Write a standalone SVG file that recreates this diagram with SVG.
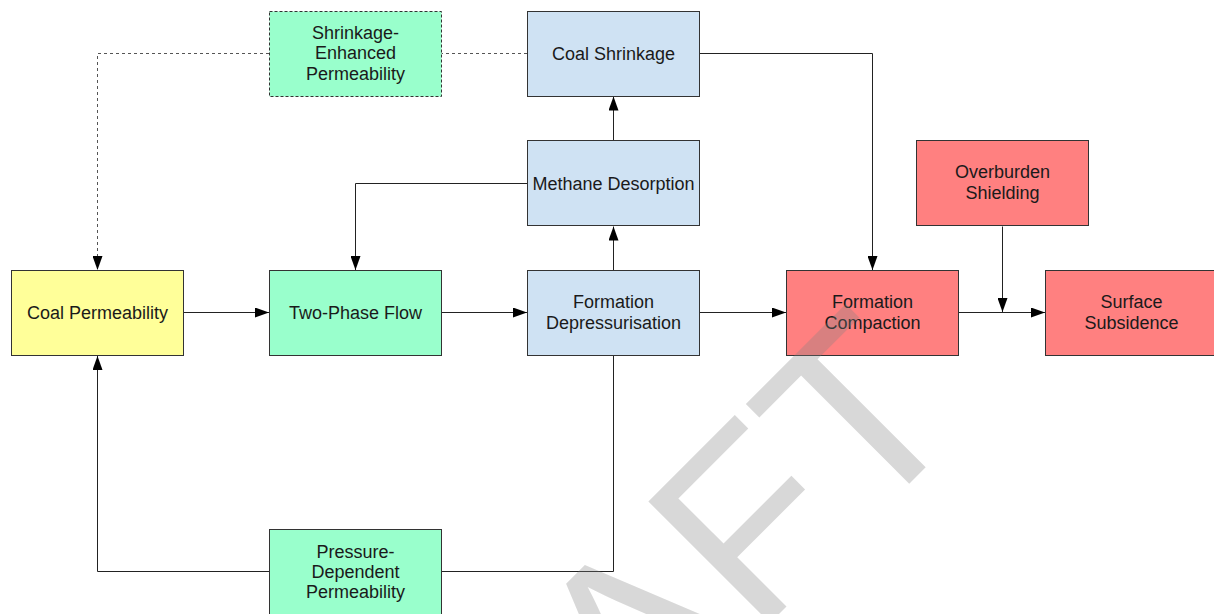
<svg xmlns="http://www.w3.org/2000/svg" width="1214" height="614" viewBox="0 0 1214 614">
<defs>
<marker id="arr" markerUnits="userSpaceOnUse" markerWidth="14" markerHeight="10" refX="14" refY="5" orient="auto">
<path d="M0,0 L14,5 L0,10 z" fill="#000"/>
</marker>
<style>
.box{stroke:#333;stroke-width:1}
.blue{fill:#cfe2f3}
.green{fill:#99ffcc}
.yellow{fill:#ffff99}
.red{fill:#ff8080}
.dash{stroke-dasharray:3,2}
text{font-family:"Liberation Sans",Arial,sans-serif;font-size:18px;fill:#1a1a1a;text-anchor:middle}
.c{fill:none;stroke:#222;stroke-width:1}
.ca{marker-end:url(#arr)}
.cd{stroke:#555;stroke-dasharray:3,3}
.wm{font-family:"Liberation Sans",Arial,sans-serif;font-size:250px;fill:#808080;fill-opacity:0.31;text-anchor:middle}
</style>
</defs>
<rect width="1214" height="614" fill="#fff"/>
<g id="connectors">
<path class="c ca" d="M183.5,312.5 H269"/>
<path class="c ca" d="M441.5,312.5 H527"/>
<path class="c ca" d="M699.5,312.5 H786"/>
<path class="c ca" d="M958.5,312.5 H1045"/>
<path class="c ca" d="M613.5,270 V226.5"/>
<path class="c ca" d="M613.5,140 V96.5"/>
<path class="c ca" d="M527,183.5 H355.5 V270"/>
<path class="c ca" d="M700,53.5 H872.5 V270"/>
<path class="c ca" d="M1002.5,226.5 V312"/>
<path class="c cd" d="M527,53.5 H441.5"/>
<path class="c cd ca" d="M269,53.5 H97.5 V270"/>
<path class="c" d="M613.5,355.5 V571.5 H441.5"/>
<path class="c ca" d="M269,571.5 H97.5 V356"/>
</g>
<g id="shrinkage-enhanced-permeability">
<rect class="box green dash" x="269.5" y="11.5" width="172" height="85"/>
<text x="355.5" y="38.5">Shrinkage-</text>
<text x="355.5" y="59">Enhanced</text>
<text x="355.5" y="79.5">Permeability</text>
</g>
<g id="coal-shrinkage">
<rect class="box blue" x="527.5" y="11.5" width="172" height="85"/>
<text x="613.5" y="60">Coal Shrinkage</text>
</g>
<g id="methane-desorption">
<rect class="box blue" x="527.5" y="140.5" width="172" height="85"/>
<text x="613.5" y="189.5">Methane Desorption</text>
</g>
<g id="overburden-shielding">
<rect class="box red" x="916.5" y="140.5" width="172" height="85"/>
<text x="1002.5" y="178">Overburden</text>
<text x="1002.5" y="198.5">Shielding</text>
</g>
<g id="coal-permeability">
<rect class="box yellow" x="11.5" y="270.5" width="172" height="85"/>
<text x="97.5" y="319">Coal Permeability</text>
</g>
<g id="two-phase-flow">
<rect class="box green" x="269.5" y="270.5" width="172" height="85"/>
<text x="355.5" y="319">Two-Phase Flow</text>
</g>
<g id="formation-depressurisation">
<rect class="box blue" x="527.5" y="270.5" width="172" height="85"/>
<text x="613.5" y="308">Formation</text>
<text x="613.5" y="328.5">Depressurisation</text>
</g>
<g id="formation-compaction">
<rect class="box red" x="786.5" y="270.5" width="172" height="85"/>
<text x="872.5" y="308">Formation</text>
<text x="872.5" y="328.5">Compaction</text>
</g>
<g id="surface-subsidence">
<rect class="box red" x="1045.5" y="270.5" width="172" height="85"/>
<text x="1131.5" y="308">Surface</text>
<text x="1131.5" y="328.5">Subsidence</text>
</g>
<g id="pressure-dependent-permeability">
<rect class="box green" x="269.5" y="529.5" width="172" height="90"/>
<text x="355.5" y="558">Pressure-</text>
<text x="355.5" y="578">Dependent</text>
<text x="355.5" y="598">Permeability</text>
</g>
<g id="watermark">
<text class="wm" x="677" y="716" transform="rotate(-45 677 716)">DRAFT</text>
</g>
</svg>
